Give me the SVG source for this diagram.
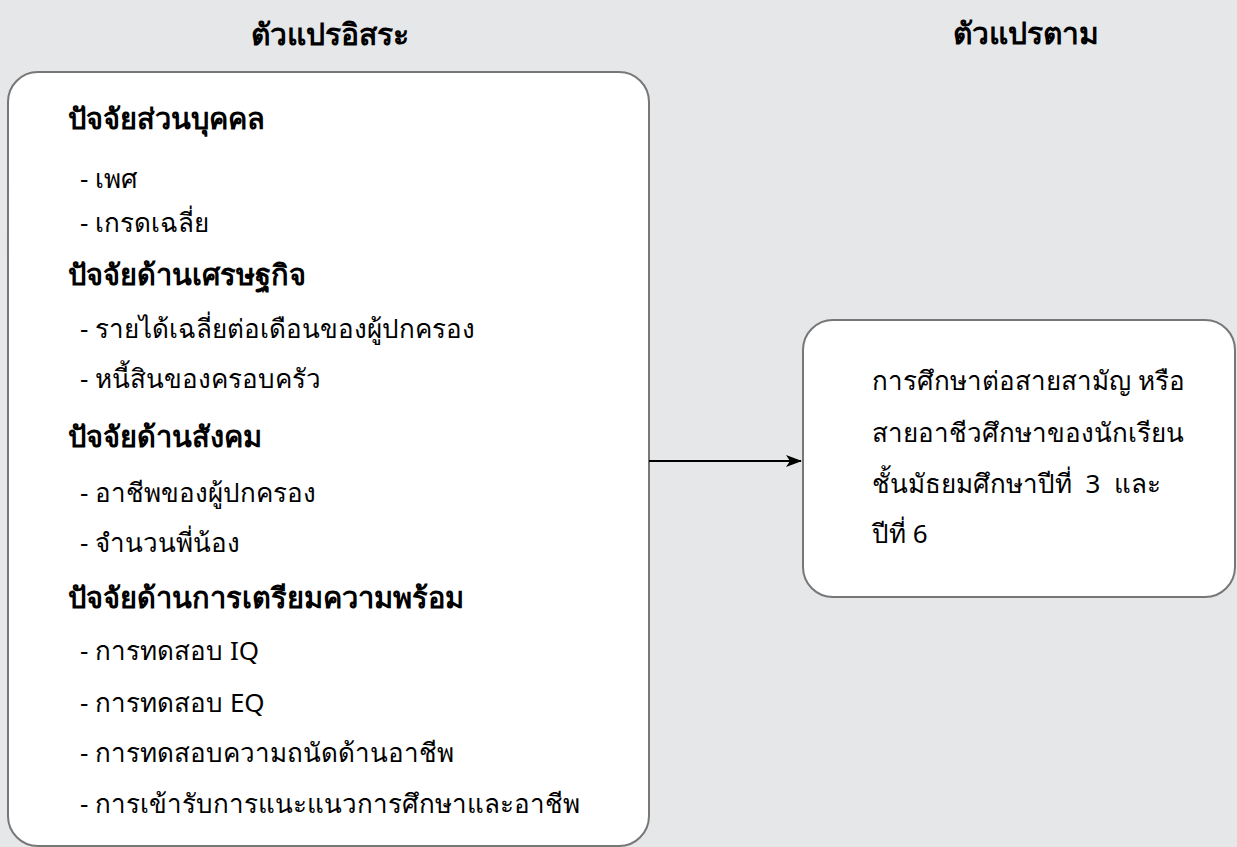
<svg xmlns="http://www.w3.org/2000/svg" width="1237" height="847" viewBox="0 0 1237 847">
<style>
.box{fill:#ffffff;stroke:#777777;stroke-width:2}
.top{font-family:"Noto Sans","Liberation Sans",sans-serif;font-weight:bold;font-size:30px;fill:#000}
.h{font-family:"Noto Sans","Liberation Sans",sans-serif;font-weight:bold;font-size:29px;fill:#000}
.t{font-family:"Noto Sans","Liberation Sans",sans-serif;font-size:26px;fill:#000}
.c{stroke:#000;stroke-width:2;fill:none}
</style>
<defs>
<marker id="arr" markerWidth="16" markerHeight="12" refX="15" refY="6" orient="auto" markerUnits="userSpaceOnUse"><path d="M0,0 L16,6 L0,12 L4,6 Z" fill="#000"/></marker>
</defs>
<rect width="1237" height="847" fill="#e6e7e9"/>
<g id="header-left"><text class="top" x="330" y="45" text-anchor="middle">ตัวแปรอิสระ</text></g>
<g id="header-right"><text class="top" x="1026" y="44" text-anchor="middle">ตัวแปรตาม</text></g>
<g id="independent">
<rect class="box" x="8" y="72" width="641" height="774" rx="30"/>
<text class="h" x="68" y="129">ปัจจัยส่วนบุคคล</text>
<text class="t" x="80" y="188">- เพศ</text>
<text class="t" x="80" y="232">- เกรดเฉลี่ย</text>
<text class="h" x="68" y="285">ปัจจัยด้านเศรษฐกิจ</text>
<text class="t" x="80" y="338">- รายได้เฉลี่ยต่อเดือนของผู้ปกครอง</text>
<text class="t" x="80" y="388">- หนี้สินของครอบครัว</text>
<text class="h" x="68" y="447">ปัจจัยด้านสังคม</text>
<text class="t" x="80" y="502">- อาชีพของผู้ปกครอง</text>
<text class="t" x="80" y="552">- จำนวนพี่น้อง</text>
<text class="h" x="68" y="608">ปัจจัยด้านการเตรียมความพร้อม</text>
<text class="t" x="80" y="660">- การทดสอบ IQ</text>
<text class="t" x="80" y="712">- การทดสอบ EQ</text>
<text class="t" x="80" y="762">- การทดสอบความถนัดด้านอาชีพ</text>
<text class="t" x="80" y="813">- การเข้ารับการแนะแนวการศึกษาและอาชีพ</text>
</g>
<g id="dependent">
<rect class="box" x="803" y="320" width="432" height="277" rx="30"/>
<text class="t" x="872" y="390">การศึกษาต่อสายสามัญ หรือ</text>
<text class="t" x="872" y="442">สายอาชีวศึกษาของนักเรียน</text>
<text class="t" x="872" y="493" xml:space="preserve">ชั้นมัธยมศึกษาปีที่  3  และ</text>
<text class="t" x="872" y="543">ปีที่ 6</text>
</g>
<g id="connectors">
<line class="c" x1="649" y1="461" x2="801" y2="461" marker-end="url(#arr)"/>
</g>
</svg>
